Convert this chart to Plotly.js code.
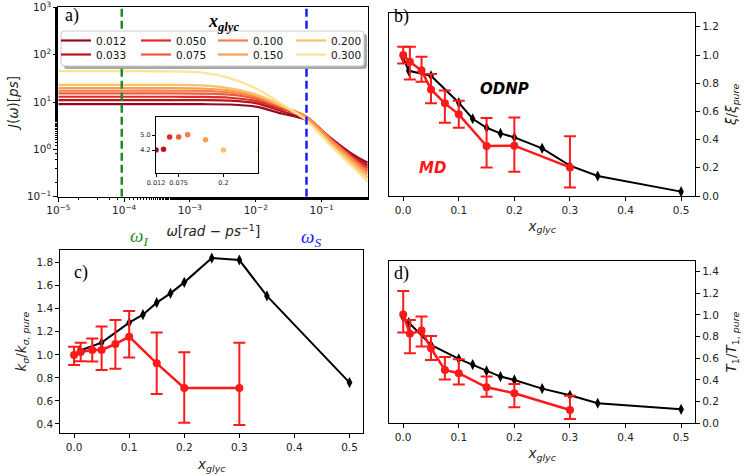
<!DOCTYPE html>
<html><head><meta charset="utf-8">
<script src="https://cdn.plot.ly/plotly-3.0.1.min.js"></script>
<style>html,body{margin:0;padding:0;background:#fff}#chart{width:746px;height:476px}</style>
</head><body><div id="chart"></div>
<script>
// ---------- data ----------
const xglyc = [0.012, 0.033, 0.050, 0.075, 0.100, 0.150, 0.200, 0.300];
const xglycLabels = ['0.012', '0.033', '0.050', '0.075', '0.100', '0.150', '0.200', '0.300'];
const seriesColors = ['#930b1f', '#bb1220', '#de2b22', '#ee5a3a', '#f47d4f', '#f99e52', '#fcc169', '#fde393'];

// spectral density J(omega) [ps] read at these frequencies
const omega = [1e-5, 1e-4, 5e-4, 1.5e-3, 4e-3, 1e-2, 2.5e-2, 5.8e-2, 0.15, 0.3, 0.5];
const J_0012 = [9.0, 9.0, 9.0, 8.98, 8.85, 8.0, 5.7, 4.2, 1.58, 0.78, 0.52];
const J_0033 = [11.0, 11.0, 11.0, 10.95, 10.7, 9.5, 6.4, 4.25, 1.52, 0.72, 0.46];
const J_0050 = [12.9, 12.9, 12.9, 12.8, 12.3, 10.6, 7.1, 4.9, 1.52, 0.68, 0.41];
const J_0075 = [15.2, 15.2, 15.2, 15.05, 14.3, 11.8, 7.6, 4.9, 1.47, 0.64, 0.37];
const J_0100 = [17.3, 17.3, 17.3, 17.1, 15.9, 12.8, 8.0, 5.0, 1.42, 0.60, 0.33];
const J_0150 = [19.7, 19.7, 19.7, 19.3, 17.6, 13.6, 8.2, 4.75, 1.30, 0.55, 0.29];
const J_0200 = [23.0, 23.0, 23.0, 22.4, 19.5, 14.5, 8.3, 4.2, 1.15, 0.48, 0.25];
const J_0300 = [45.0, 45.0, 44.5, 42.0, 32.0, 19.5, 9.0, 4.2, 1.05, 0.42, 0.21];
const J_all = [J_0012, J_0033, J_0050, J_0075, J_0100, J_0150, J_0200, J_0300];

const omegaI = 9.2e-5;   // nuclear Larmor frequency
const omegaS = 0.059;    // electron Larmor frequency
const J_omegaS = [4.2, 4.24, 4.9, 4.9, 5.02, 4.75, 4.2, 4.2];  // inset values

// log-axis tick labels
const omegaTickVals = [1e-5, 1e-4, 1e-3, 1e-2, 1e-1];
const omegaTickText = ['10<sup>−5</sup>', '10<sup>−4</sup>', '10<sup>−3</sup>', '10<sup>−2</sup>', '10<sup>−1</sup>'];
const JTickVals = [0.1, 1, 10, 100, 1000];
const JTickText = ['10<sup>−1</sup>', '10<sup>0</sup>', '10<sup>1</sup>', '10<sup>2</sup>', '10<sup>3</sup>'];

// ODNP experiment (black)
const odnpX = [0, 0.01, 0.05, 0.1, 0.125, 0.15, 0.175, 0.2, 0.25, 0.3, 0.35, 0.5];
const odnpXi = [0.98, 0.888, 0.853, 0.661, 0.548, 0.484, 0.444, 0.416, 0.338, 0.215, 0.142, 0.031];
const odnpKsigma = [1.0, 1.036, 1.106, 1.279, 1.349, 1.453, 1.534, 1.629, 1.84, 1.823, 1.511, 0.759];
const odnpT1 = [0.98, 0.93, 0.723, 0.594, 0.542, 0.483, 0.431, 0.40, 0.32, 0.258, 0.185, 0.129];

// MD simulation (red)
const mdX = [0, 0.012, 0.033, 0.05, 0.075, 0.1, 0.15, 0.2, 0.3];
const mdXi = [1.0, 0.952, 0.89, 0.756, 0.657, 0.579, 0.354, 0.357, 0.203];
const mdXiErrPlus = [0.058, 0.106, 0.097, 0.109, 0.092, 0.097, 0.199, 0.2, 0.22];
const mdXiErrMinus = [0.06, 0.125, 0.08, 0.099, 0.137, 0.095, 0.151, 0.185, 0.142];
const mdKsigma = [0.999, 1.025, 1.042, 1.042, 1.094, 1.158, 0.926, 0.712, 0.712];
const mdKsigmaErrPlus = [0.072, 0.08, 0.1, 0.203, 0.208, 0.223, 0.267, 0.31, 0.394];
const mdKsigmaErrMinus = [0.087, 0.08, 0.1, 0.173, 0.214, 0.182, 0.266, 0.301, 0.321];
const mdT1 = [1.003, 0.825, 0.855, 0.692, 0.492, 0.462, 0.332, 0.277, 0.123];
const mdT1ErrPlus = [0.217, 0.129, 0.13, 0.114, 0.12, 0.129, 0.099, 0.086, 0.132];
const mdT1ErrMinus = [0.166, 0.179, 0.147, 0.107, 0.089, 0.105, 0.086, 0.129, 0.083];

// ---------- layout helpers ----------
const W = 746, H = 476;
const px = x => x / W;
const py = y => 1 - y / H;
const FONT = 'DejaVu Sans';
const SERIF = 'Liberation Serif';

function ax(extra) {
  return Object.assign({
    showline: true, mirror: true, linecolor: '#000', linewidth: 1.1,
    ticks: 'outside', ticklen: 4, tickwidth: 1, tickcolor: '#000',
    showgrid: false, zeroline: false, ticklabeloverflow: 'allow',
    tickfont: {family: FONT, size: 10.5, color: '#222'}
  }, extra);
}
function withTitle(a, text, standoff) {
  a.title = {text: text, standoff: standoff, font: {family: FONT, size: 13.5, color: '#222'}};
  return a;
}

const traces = [];

// panel a: spectral densities, each in its own one-entry legend (4 columns x 2 rows)
J_all.forEach((J, i) => {
  traces.push({
    x: omega, y: J, type: 'scatter', mode: 'lines',
    line: {color: seriesColors[i], width: 2.2, shape: 'spline', smoothing: 0.8},
    name: xglycLabels[i], xaxis: 'x', yaxis: 'y',
    legend: i === 0 ? 'legend' : 'legend' + (i + 1)
  });
});
traces.push({x: [omegaI, omegaI], y: [0.1, 1000], mode: 'lines', xaxis: 'x', yaxis: 'y', showlegend: false,
  line: {color: '#1e8c28', width: 2.5, dash: '8px,4px'}, hoverinfo: 'skip'});
traces.push({x: [omegaS, omegaS], y: [0.1, 1000], mode: 'lines', xaxis: 'x', yaxis: 'y', showlegend: false,
  line: {color: '#1a1aff', width: 2.5, dash: '8px,4px'}, hoverinfo: 'skip'});

// inset
traces.push({x: xglyc, y: J_omegaS, mode: 'markers', xaxis: 'x5', yaxis: 'y5', showlegend: false,
  marker: {color: seriesColors, size: 5.5}});

// panels b, c, d
const panels = [
  {xa: 'x2', ya: 'y2', odnp: odnpXi, md: mdXi, ep: mdXiErrPlus, em: mdXiErrMinus},
  {xa: 'x3', ya: 'y3', odnp: odnpKsigma, md: mdKsigma, ep: mdKsigmaErrPlus, em: mdKsigmaErrMinus},
  {xa: 'x4', ya: 'y4', odnp: odnpT1, md: mdT1, ep: mdT1ErrPlus, em: mdT1ErrMinus}
];
panels.forEach(p => {
  traces.push({x: odnpX, y: p.odnp, mode: 'lines+markers', xaxis: p.xa, yaxis: p.ya, showlegend: false,
    line: {color: '#000', width: 2}, marker: {symbol: 'diamond-tall', size: 8, color: '#000'}});
  traces.push({x: mdX, y: p.md, mode: 'lines+markers', xaxis: p.xa, yaxis: p.ya, showlegend: false,
    line: {color: '#ff1a1a', width: 2.5}, marker: {symbol: 'circle', size: 8, color: '#ff1a1a'},
    error_y: {type: 'data', symmetric: false, array: p.ep, arrayminus: p.em, color: '#ff1a1a', thickness: 2, width: 6}});
});

// legend box path (rounded)
function roundRect(x0, y0, x1, y1, r) {
  const rx = r / W, ry = r / H;
  const X0 = px(x0), X1 = px(x1), Y0 = py(y0), Y1 = py(y1);
  return `M${X0 + rx},${Y0} L${X1 - rx},${Y0} Q${X1},${Y0} ${X1},${Y0 - ry} L${X1},${Y1 + ry} Q${X1},${Y1} ${X1 - rx},${Y1} L${X0 + rx},${Y1} Q${X0},${Y1} ${X0},${Y1 + ry} L${X0},${Y0 - ry} Q${X0},${Y0} ${X0 + rx},${Y0} Z`;
}

const layout = {
  width: W, height: H, margin: {l: 0, r: 0, t: 0, b: 0},
  paper_bgcolor: '#fff', plot_bgcolor: '#fff', showlegend: true,

  xaxis: withTitle(ax({domain: [px(58.3), px(368.3)], anchor: 'y', type: 'log', range: [-5.0005, -0.29],
    tickvals: omegaTickVals, ticktext: omegaTickText, minor: {ticks: 'outside', ticklen: 2.5, tickcolor: '#000'}}),
    '<i>ω</i>[<i>rad</i> − <i>ps</i><sup>−1</sup>]', 11),
  yaxis: withTitle(ax({domain: [py(196.7), py(7.3)], anchor: 'x', type: 'log', range: [-1.0005, 3.0005],
    tickvals: JTickVals, ticktext: JTickText, minor: {ticks: 'outside', ticklen: 2.5, tickcolor: '#000'}}),
    '<i>J</i>(<i>ω</i>)[<i>ps</i>]', 5),

  xaxis2: withTitle(ax({domain: [px(389.3), px(695)], anchor: 'y2', range: [-0.025, 0.525], dtick: 0.1, tickformat: '.1f'}),
    '<i>x</i><sub><i>glyc</i></sub>', 6),
  yaxis2: withTitle(ax({domain: [py(196), py(12.7)], anchor: 'x2', side: 'right', range: [0, 1.3],
    tickvals: [0, 0.2, 0.4, 0.6, 0.8, 1.0, 1.2], tickformat: '.1f'}),
    '<i>ξ</i>/<i>ξ</i><sub><i>pure</i></sub>', 8),

  xaxis3: withTitle(ax({domain: [px(60.3), px(363.3)], anchor: 'y3', range: [-0.025, 0.525], dtick: 0.1, tickformat: '.1f'}),
    '<i>x</i><sub><i>glyc</i></sub>', 7),
  yaxis3: withTitle(ax({domain: [py(433.3), py(250)], anchor: 'x3', range: [0.319, 1.91],
    tickvals: [0.4, 0.6, 0.8, 1.0, 1.2, 1.4, 1.6, 1.8], tickformat: '.1f'}),
    '<i>k</i><sub><i>σ</i></sub>/<i>k</i><sub><i>σ, pure</i></sub>', 6),

  xaxis4: withTitle(ax({domain: [px(389.3), px(695)], anchor: 'y4', range: [-0.025, 0.525], dtick: 0.1, tickformat: '.1f'}),
    '<i>x</i><sub><i>glyc</i></sub>', 6),
  yaxis4: withTitle(ax({domain: [py(423.3), py(260.7)], anchor: 'x4', side: 'right', range: [0, 1.5],
    tickvals: [0, 0.2, 0.4, 0.6, 0.8, 1.0, 1.2, 1.4], tickformat: '.1f'}),
    '<i>T</i><sub>1</sub>/<i>T</i><sub>1, <i>pure</i></sub>', 8),

  xaxis5: ax({domain: [px(156), px(258.3)], anchor: 'y5', range: [0.012, 0.297],
    tickvals: [0.012, 0.075, 0.2], ticktext: ['0.012', '0.075', '0.2'], ticklen: 3,
    tickfont: {family: FONT, size: 6.5, color: '#222'}}),
  yaxis5: ax({domain: [py(172.7), py(116.7)], anchor: 'x5', range: [2.99, 5.98],
    tickvals: [4.2, 5.0], ticktext: ['4.2', '5.0'], ticklen: 3,
    tickfont: {family: FONT, size: 6.5, color: '#222'}}),

  shapes: [
    {type: 'path', xref: 'paper', yref: 'paper', layer: 'above', path: roundRect(64, 34, 367, 69, 3),
      fillcolor: 'rgba(110,110,110,0.6)', line: {width: 0}},
    {type: 'path', xref: 'paper', yref: 'paper', layer: 'above', path: roundRect(61, 31, 364, 66, 3),
      fillcolor: '#fff', line: {color: '#cccccc', width: 1}}
  ],
  annotations: [
    {text: 'a)', x: px(63), y: py(15.5), xref: 'paper', yref: 'paper', xanchor: 'left', yanchor: 'middle', showarrow: false,
      font: {family: SERIF, size: 18, color: '#000'}},
    {text: 'b)', x: px(392), y: py(17), xref: 'paper', yref: 'paper', xanchor: 'left', yanchor: 'middle', showarrow: false,
      font: {family: SERIF, size: 18, color: '#000'}},
    {text: 'c)', x: px(72), y: py(272), xref: 'paper', yref: 'paper', xanchor: 'left', yanchor: 'middle', showarrow: false,
      font: {family: SERIF, size: 18, color: '#000'}},
    {text: 'd)', x: px(392), y: py(273), xref: 'paper', yref: 'paper', xanchor: 'left', yanchor: 'middle', showarrow: false,
      font: {family: SERIF, size: 18, color: '#000'}},
    {text: '<b><i>x</i><sub><i>glyc</i></sub></b>', x: px(206), y: py(22), xref: 'paper', yref: 'paper',
      yanchor: 'middle', showarrow: false, font: {family: SERIF, size: 18, color: '#000'}},
    {text: '<i>ω</i><sub><i>I</i></sub>', x: px(128), y: py(237), xref: 'paper', yref: 'paper', showarrow: false,
      font: {family: SERIF, size: 19, color: '#1e8c28'}},
    {text: '<i>ω</i><sub><i>S</i></sub>', x: px(311), y: py(238), xref: 'paper', yref: 'paper', showarrow: false,
      font: {family: SERIF, size: 19, color: '#1a1aff'}},
    {text: '<b><i>ODNP</i></b>', x: px(530.5), y: py(78), xref: 'paper', yref: 'paper', showarrow: false,
      font: {family: FONT, size: 15, color: '#000'}},
    {text: '<b><i>MD</i></b>', x: px(432), y: py(157), xref: 'paper', yref: 'paper', showarrow: false,
      font: {family: FONT, size: 15, color: '#ff1a1a'}}
  ]
};

// one legend per entry: columns (left px) and rows (centre px)
const legendColX = [56, 136, 213, 291];
const legendRowY = [40.5, 54.5];
xglycLabels.forEach((lab, i) => {
  const key = i === 0 ? 'legend' : 'legend' + (i + 1);
  layout[key] = {
    x: px(legendColX[Math.floor(i / 2)]), y: py(legendRowY[i % 2]),
    xanchor: 'left', yanchor: 'middle', orientation: 'v', bgcolor: 'rgba(0,0,0,0)',
    borderwidth: 0, itemwidth: 30,
    font: {family: FONT, size: 10.5, color: '#111'}
  };
});

Plotly.newPlot('chart', traces, layout, {displayModeBar: false, staticPlot: true});
</script>
</body></html>
